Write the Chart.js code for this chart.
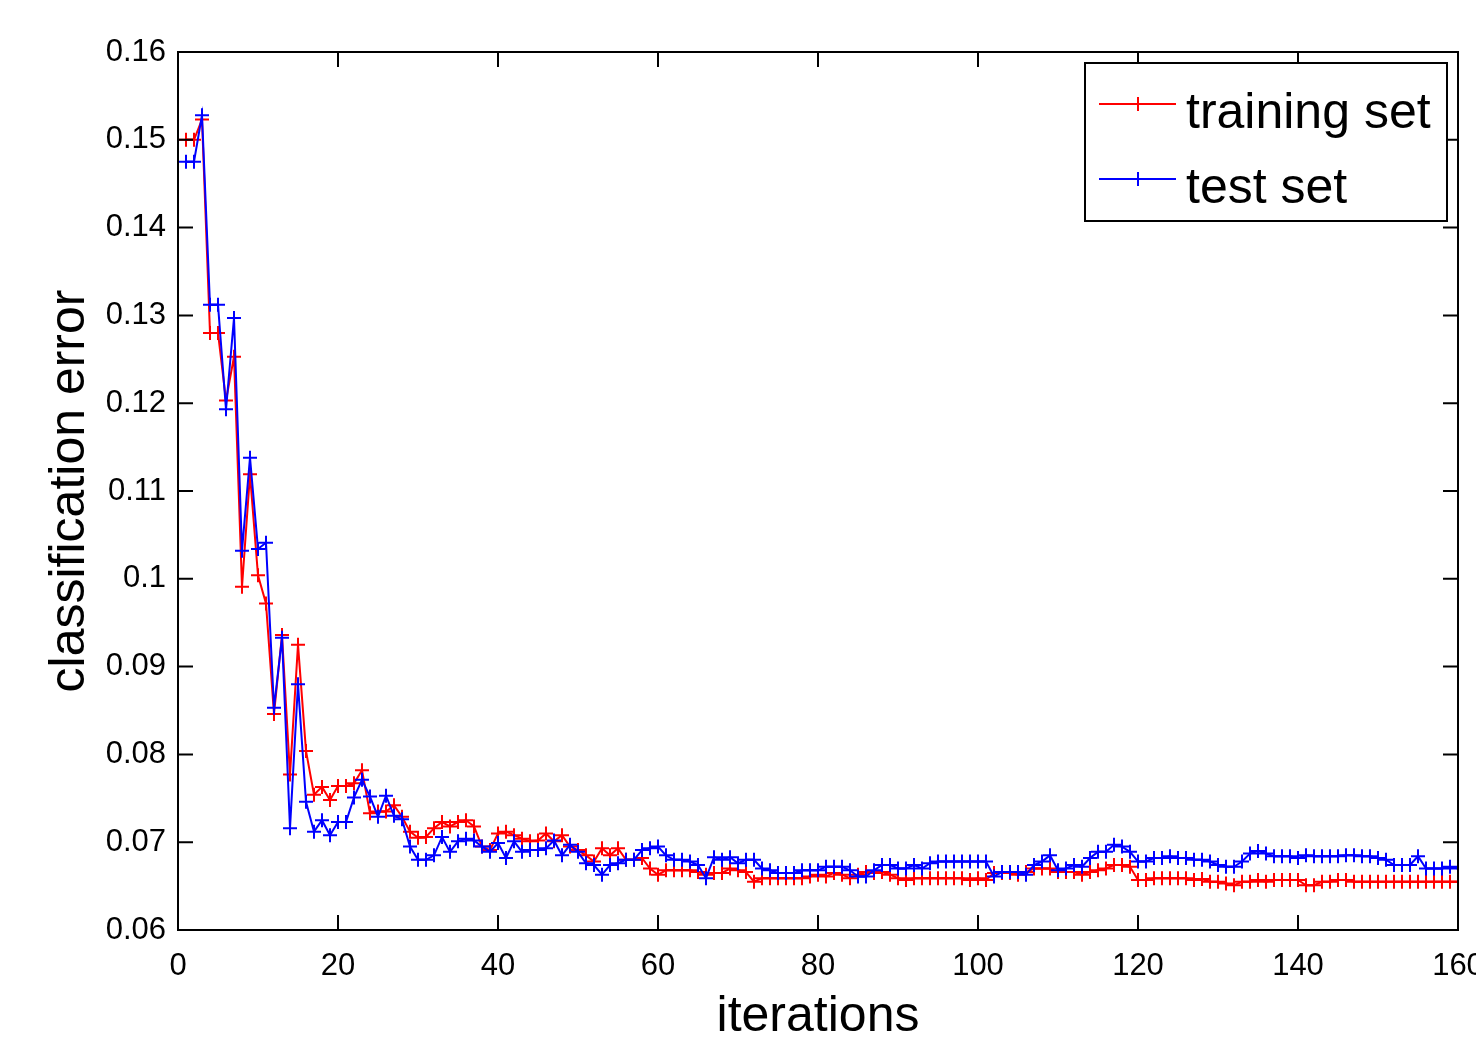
<!DOCTYPE html>
<html>
<head>
<meta charset="utf-8">
<title>classification error</title>
<script src="https://cdn.jsdelivr.net/npm/chart.js@4.4.1/dist/chart.umd.min.js"></script>
<style>
  html, body { margin: 0; padding: 0; background: #fff; overflow: hidden; }
  #chart { display: block; }
</style>
</head>
<body>
<canvas id="chart" width="1476" height="1042"></canvas>
<script>
/* =====================
   DATA
===================== */
const iterations = [
  1, 2, 3, 4, 5, 6, 7, 8, 9, 10, 11, 12, 13, 14, 15, 16, 17, 18, 19, 20,
  21, 22, 23, 24, 25, 26, 27, 28, 29, 30, 31, 32, 33, 34, 35, 36, 37, 38, 39, 40,
  41, 42, 43, 44, 45, 46, 47, 48, 49, 50, 51, 52, 53, 54, 55, 56, 57, 58, 59, 60,
  61, 62, 63, 64, 65, 66, 67, 68, 69, 70, 71, 72, 73, 74, 75, 76, 77, 78, 79, 80,
  81, 82, 83, 84, 85, 86, 87, 88, 89, 90, 91, 92, 93, 94, 95, 96, 97, 98, 99, 100,
  101, 102, 103, 104, 105, 106, 107, 108, 109, 110, 111, 112, 113, 114, 115, 116, 117, 118, 119, 120,
  121, 122, 123, 124, 125, 126, 127, 128, 129, 130, 131, 132, 133, 134, 135, 136, 137, 138, 139, 140,
  141, 142, 143, 144, 145, 146, 147, 148, 149, 150, 151, 152, 153, 154, 155, 156, 157, 158, 159, 160
];

const trainingError = [
  0.1500, 0.1500, 0.1523, 0.1280, 0.1280, 0.1203, 0.1253, 0.0991, 0.1119, 0.1004,
  0.0972, 0.0846, 0.0936, 0.0777, 0.0925, 0.0804, 0.0754, 0.0763, 0.0748, 0.0764,
  0.0764, 0.0767, 0.0782, 0.0733, 0.0735, 0.0735, 0.0742, 0.0729, 0.0712, 0.0705,
  0.0706, 0.0716, 0.0723, 0.0718, 0.0723, 0.0725, 0.0718, 0.0695, 0.0691, 0.0710,
  0.0712, 0.0708, 0.0704, 0.0701, 0.0702, 0.0710, 0.0701, 0.0708, 0.0695, 0.0691,
  0.0685, 0.0678, 0.0693, 0.0685, 0.0693, 0.0680, 0.0680, 0.0682, 0.0670, 0.0663,
  0.0668, 0.0668, 0.0668, 0.0668, 0.0666, 0.0663, 0.0665, 0.0665, 0.0670, 0.0668,
  0.0666, 0.0655, 0.0659, 0.0659, 0.0659, 0.0659, 0.0659, 0.0659, 0.0661, 0.0663,
  0.0661, 0.0665, 0.0663, 0.0659, 0.0663, 0.0666, 0.0665, 0.0666, 0.0663, 0.0659,
  0.0657, 0.0659, 0.0659, 0.0659, 0.0659, 0.0659, 0.0659, 0.0659, 0.0657, 0.0659,
  0.0657, 0.0665, 0.0665, 0.0665, 0.0663, 0.0666, 0.0670, 0.0670, 0.0670, 0.0666,
  0.0666, 0.0666, 0.0663, 0.0666, 0.0668, 0.0670, 0.0674, 0.0674, 0.0672, 0.0657,
  0.0657, 0.0659, 0.0659, 0.0659, 0.0659, 0.0659, 0.0657, 0.0658, 0.0655, 0.0655,
  0.0653, 0.0651, 0.0655, 0.0655, 0.0657, 0.0655, 0.0657, 0.0657, 0.0657, 0.0657,
  0.0651, 0.0651, 0.0655, 0.0655, 0.0657, 0.0657, 0.0655, 0.0655, 0.0655, 0.0655,
  0.0655, 0.0655, 0.0655, 0.0655, 0.0655, 0.0655, 0.0655, 0.0655, 0.0655, 0.0655
];

const testError = [
  0.1475, 0.1475, 0.1528, 0.1312, 0.1312, 0.1193, 0.1297, 0.1032, 0.1138, 0.1034,
  0.1041, 0.0853, 0.0933, 0.0716, 0.0880, 0.0746, 0.0712, 0.0725, 0.0708, 0.0723,
  0.0723, 0.0751, 0.0771, 0.0752, 0.0729, 0.0753, 0.0730, 0.0726, 0.0695, 0.0680,
  0.0680, 0.0685, 0.0706, 0.0689, 0.0701, 0.0704, 0.0702, 0.0695, 0.0689, 0.0699,
  0.0682, 0.0701, 0.0689, 0.0691, 0.0691, 0.0693, 0.0702, 0.0685, 0.0697, 0.0689,
  0.0676, 0.0674, 0.0663, 0.0674, 0.0676, 0.0680, 0.0680, 0.0691, 0.0693, 0.0695,
  0.0685, 0.0680, 0.0680, 0.0678, 0.0674, 0.0659, 0.0683, 0.0680, 0.0683, 0.0676,
  0.0680, 0.0680, 0.0670, 0.0668, 0.0665, 0.0665, 0.0665, 0.0668, 0.0668, 0.0668,
  0.0672, 0.0672, 0.0672, 0.0668, 0.0661, 0.0661, 0.0668, 0.0674, 0.0674, 0.0670,
  0.0670, 0.0674, 0.0670, 0.0676, 0.0678, 0.0678, 0.0678, 0.0678, 0.0678, 0.0678,
  0.0678, 0.0661, 0.0666, 0.0666, 0.0666, 0.0663, 0.0674, 0.0678, 0.0685, 0.0668,
  0.0670, 0.0674, 0.0672, 0.0682, 0.0689, 0.0689, 0.0697, 0.0695, 0.0689, 0.0678,
  0.0678, 0.0682, 0.0682, 0.0684, 0.0682, 0.0682, 0.0680, 0.0680, 0.0678, 0.0674,
  0.0672, 0.0672, 0.0678, 0.0687, 0.0690, 0.0687, 0.0684, 0.0684, 0.0684, 0.0682,
  0.0685, 0.0684, 0.0684, 0.0684, 0.0684, 0.0685, 0.0685, 0.0684, 0.0684, 0.0682,
  0.0680, 0.0674, 0.0674, 0.0674, 0.0684, 0.0670, 0.0670, 0.0670, 0.0672, 0.0670
];

const xTicks = [0, 20, 40, 60, 80, 100, 120, 140, 160];
const yTicks = [0.06, 0.07, 0.08, 0.09, 0.1, 0.11, 0.12, 0.13, 0.14, 0.15, 0.16];

/* =====================
   LOOK
===================== */
const FONT = "'Liberation Sans', Arial, Helvetica, sans-serif";
const TICK_LEN = 15;
const RED = "#ff0000";
const BLUE = "#0000ff";

/* =====================
   PLUGINS
===================== */
// matlab style box with inward ticks on all four sides
const boxPlugin = {
  id: "matlabBox",
  afterDatasetsDraw(chart) {
    const { ctx, chartArea: a, scales: { x, y } } = chart;
    ctx.save();
    ctx.strokeStyle = "#000";
    ctx.lineWidth = 2;
    ctx.strokeRect(a.left, a.top, a.right - a.left, a.bottom - a.top);
    ctx.beginPath();
    x.ticks.forEach(t => {
      const px = x.getPixelForValue(t.value);
      ctx.moveTo(px, a.bottom);
      ctx.lineTo(px, a.bottom - TICK_LEN);
      ctx.moveTo(px, a.top);
      ctx.lineTo(px, a.top + TICK_LEN);
    });
    y.ticks.forEach(t => {
      const py = y.getPixelForValue(t.value);
      ctx.moveTo(a.left, py);
      ctx.lineTo(a.left + TICK_LEN, py);
      ctx.moveTo(a.right, py);
      ctx.lineTo(a.right - TICK_LEN, py);
    });
    ctx.stroke();
    ctx.restore();
  }
};

// boxed legend in the top right corner
const legendPlugin = {
  id: "boxLegend",
  afterDraw(chart) {
    const { ctx, chartArea: a } = chart;
    const w = 362, h = 158;
    const left = a.right - 11 - w;
    const top = a.top + 11;
    const sets = chart.data.datasets.slice().sort((p, q) => p.legendIndex - q.legendIndex);

    ctx.save();
    ctx.fillStyle = "#fff";
    ctx.fillRect(left, top, w, h);
    ctx.strokeStyle = "#000";
    ctx.lineWidth = 2;
    ctx.strokeRect(left, top, w, h);

    ctx.font = "50px " + FONT;
    ctx.textBaseline = "alphabetic";
    ctx.textAlign = "left";

    sets.forEach((ds, i) => {
      const ly = top + 41 + i * 75;
      const x0 = left + 14, x1 = left + 91, xm = left + 53;
      ctx.strokeStyle = ds.borderColor;
      ctx.lineWidth = 2;
      ctx.beginPath();
      ctx.moveTo(x0, ly);
      ctx.lineTo(x1, ly);
      ctx.moveTo(xm, ly - 7);
      ctx.lineTo(xm, ly + 7);
      ctx.stroke();
      ctx.fillStyle = "#000";
      ctx.fillText(ds.label, left + 101, ly + 24);
    });
    ctx.restore();
  }
};

/* =====================
   CHART
===================== */
const ctx = document.getElementById("chart").getContext("2d");

new Chart(ctx, {
  type: "line",
  data: {
    labels: iterations,
    datasets: [
      {
        label: "test set",
        legendIndex: 1,
        data: testError,
        borderColor: BLUE,
        backgroundColor: BLUE,
        borderWidth: 2,
        pointStyle: "cross",
        pointRadius: 7,
        pointBorderWidth: 2,
        tension: 0,
        order: 0
      },
      {
        label: "training set",
        legendIndex: 0,
        data: trainingError,
        borderColor: RED,
        backgroundColor: RED,
        borderWidth: 2,
        pointStyle: "cross",
        pointRadius: 7,
        pointBorderWidth: 2,
        tension: 0,
        order: 1
      }
    ]
  },
  options: {
    responsive: false,
    animation: false,
    devicePixelRatio: 1,
    layout: { padding: { top: 52, right: 18, bottom: 0, left: 0 } },
    plugins: {
      legend: { display: false },
      tooltip: { enabled: false }
    },
    scales: {
      x: {
        type: "linear",
        min: 0,
        max: 160,
        afterBuildTicks: s => { s.ticks = xTicks.map(v => ({ value: v })); },
        afterFit: s => { s.height = 112; s.paddingRight = 0; s.paddingLeft = 0; },
        grid: { display: false, drawTicks: false },
        border: { display: false },
        ticks: {
          color: "#000",
          padding: 18,
          maxRotation: 0,
          autoSkip: false,
          font: { family: FONT, size: 31 }
        },
        title: {
          display: true,
          text: "iterations",
          color: "#000",
          padding: 0,
          font: { family: FONT, size: 50, lineHeight: 1 }
        }
      },
      y: {
        type: "linear",
        min: 0.06,
        max: 0.16,
        afterBuildTicks: s => { s.ticks = yTicks.map(v => ({ value: v })); },
        afterFit: s => { s.width = 178; },
        grid: { display: false, drawTicks: false },
        border: { display: false },
        ticks: {
          color: "#000",
          padding: 12,
          autoSkip: false,
          font: { family: FONT, size: 31 },
          callback: v => String(+v.toFixed(2))
        },
        title: {
          display: true,
          text: "classification error",
          color: "#000",
          padding: { top: 45, bottom: 0 },
          font: { family: FONT, size: 50, lineHeight: 1 }
        }
      }
    }
  },
  plugins: [boxPlugin, legendPlugin]
});
</script>
</body>
</html>
